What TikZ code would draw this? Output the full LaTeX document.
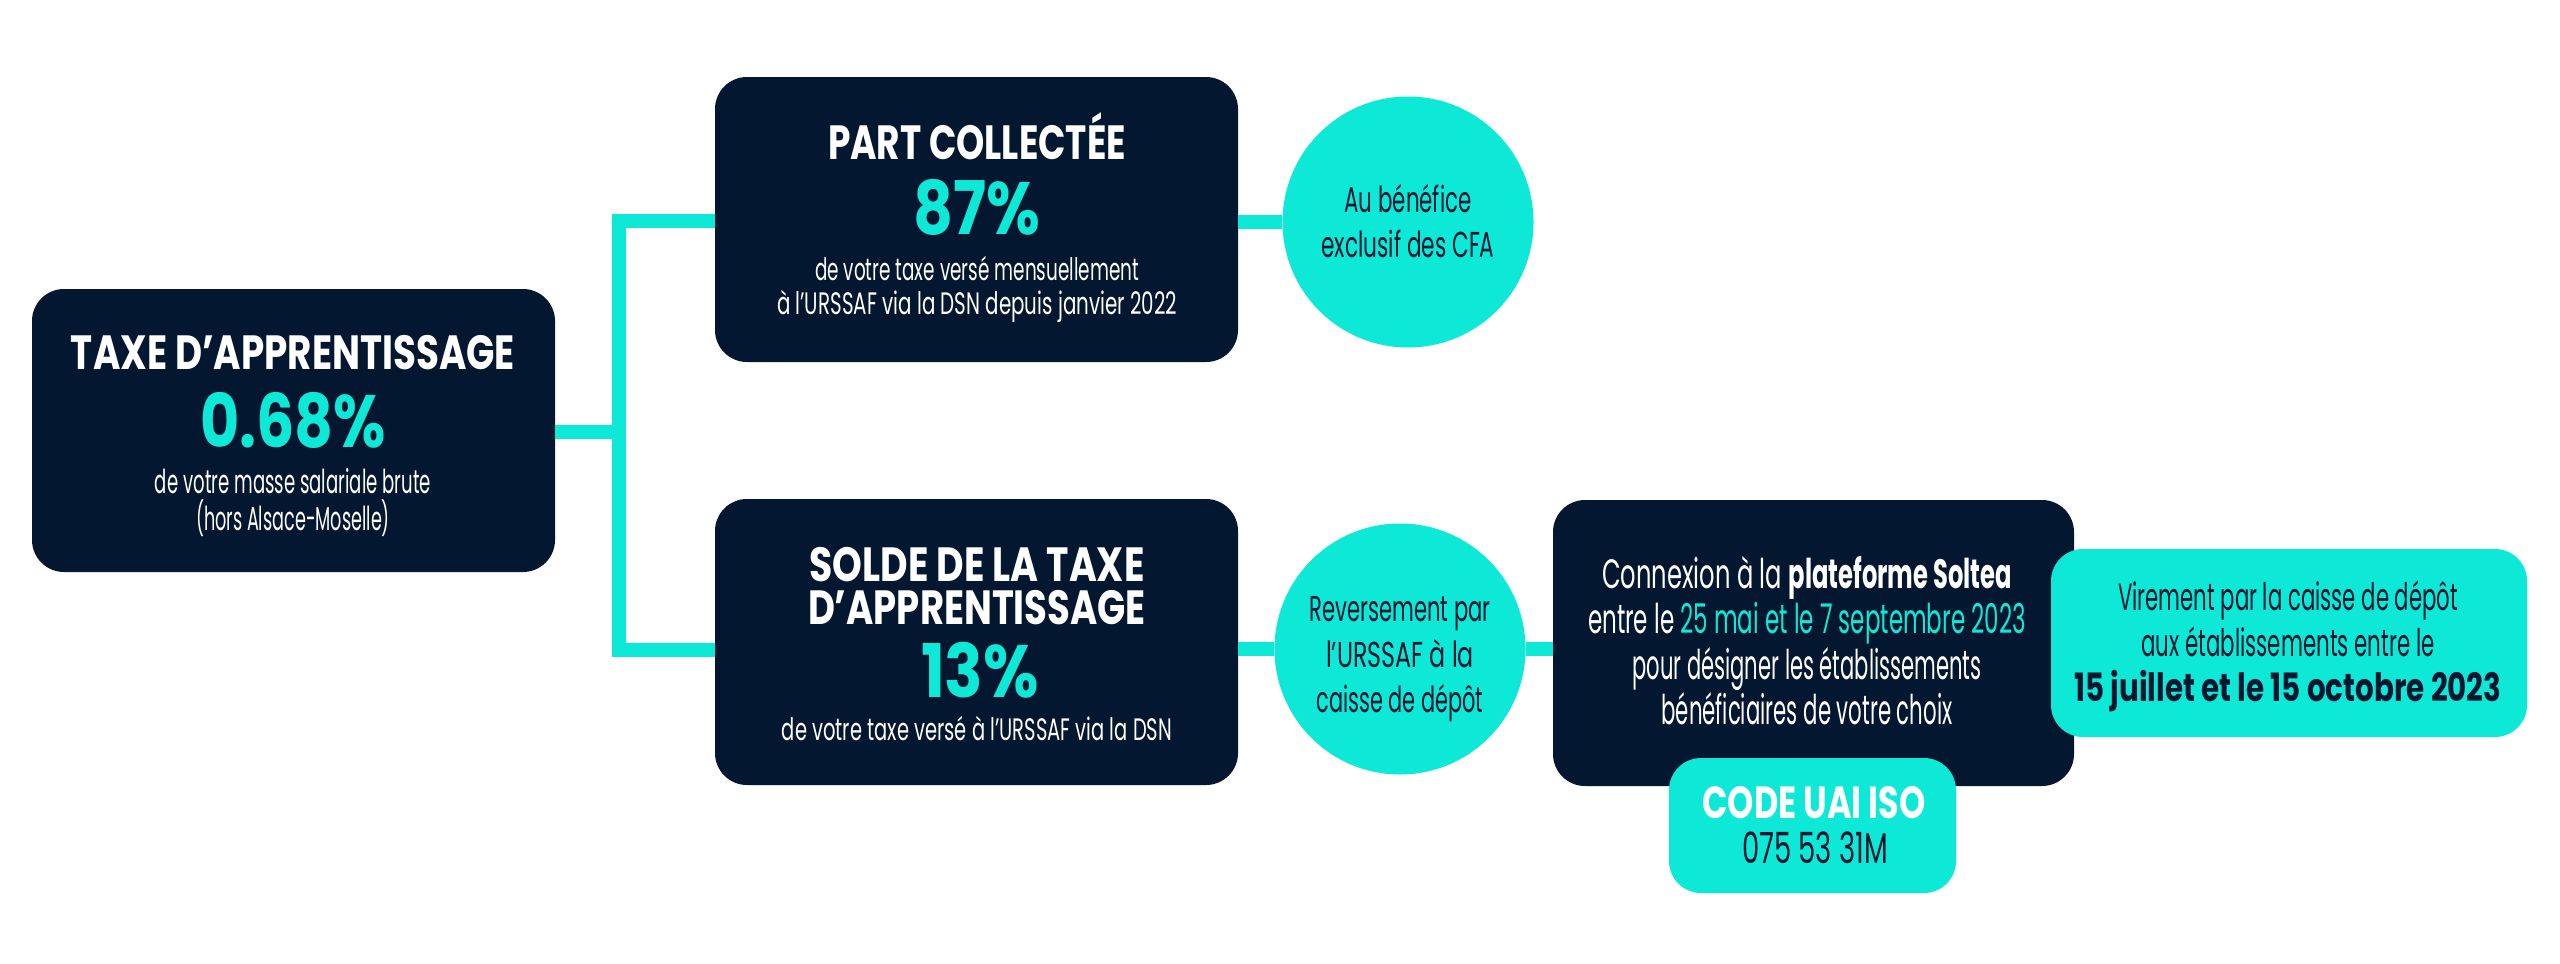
\documentclass[tikz,border=0pt]{standalone}
\usepackage{fontspec}
\setmainfont{Poppins}
\usepackage{graphicx}
\definecolor{navy}{HTML}{031830}
\definecolor{tq}{HTML}{0DE9D6}
\newcommand\fitw[2]{\resizebox{#1pt}{\height}{#2}}
\newcommand\fTitle{\fontsize{48}{48}\selectfont\bfseries}
\newcommand\fPct{\fontsize{74}{74}\selectfont\bfseries}
\newcommand\fBody{\fontsize{31}{31}\selectfont}
\newcommand\fBodyL{\fontsize{33}{33}\selectfont}
\newcommand\fCirc{\fontsize{36}{36}\selectfont}
\newcommand\fCon{\fontsize{41}{41}\selectfont}
\newcommand\fCode{\fontsize{45}{45}\selectfont\bfseries}
\newcommand\fNum{\fontsize{43}{43}\selectfont}
\newcommand\fVir{\fontsize{38}{38}\selectfont}
\newcommand\fVirB{\fontsize{39}{39}\selectfont\bfseries}
\begin{document}
\begin{tikzpicture}[x=1pt,y=-1pt,
  darkbox/.style={rectangle, rounded corners=32pt, fill=navy, inner sep=0pt},
  lightbox/.style={rectangle, rounded corners=32pt, fill=tq, inner sep=0pt},
  bubble/.style={circle, fill=tq, inner sep=0pt, minimum size=251pt},
  txt/.style={inner sep=0pt, anchor=base},
  conn/.style={draw=tq, line width=14pt, line join=miter}]
\fill[white] (0,0) rectangle (2560,964);
\useasboundingbox (0,0) rectangle (2560,964);

% boxes
\node[darkbox, minimum width=523pt, minimum height=283pt] (leftbox) at (293.5,430.5) {};
\node[darkbox, minimum width=523pt, minimum height=285pt] (topbox) at (976.5,219.5) {};
\node[darkbox, minimum width=523pt, minimum height=286pt] (botbox) at (976.5,642) {};
\node[bubble] (circ1) at (1408,222) {};
\node[bubble] (circ2) at (1400,649) {};
\node[darkbox, minimum width=521pt, minimum height=286pt] (conbox) at (1813.5,643) {};
\node[lightbox, minimum width=287pt, minimum height=135pt] (codebox) at (1812.5,825.5) {};
\node[lightbox, minimum width=476pt, minimum height=188pt] (virbox) at (2289,643) {};

% connectors
\coordinate (jt) at (619,221);
\coordinate (jm) at (619,432);
\coordinate (jb) at (619,650);
\draw[conn] (jt -| topbox.west) -- (jt) -- (jb) -- (jb -| botbox.west);
\draw[conn] (leftbox.east |- jm) -- (jm);
\draw[conn] (topbox.east |- circ1.west) -- (circ1.west);
\draw[conn] (botbox.east |- circ2.west) -- (circ2.west);
\draw[conn] (circ2.east) -- (circ2.east -| conbox.west);

% left box text
\node[txt, text=white] (l1) at (293,369) {\fitw{444}{\fTitle TAXE D’APPRENTISSAGE}};
\node[txt, text=tq] (l2) at (293,447) {\fitw{186}{\fPct 0.68\%}};
\node[txt, text=white] (l3) at (293,493) {\fitw{276}{\fBodyL de votre masse salariale brute}};
\node[txt, text=white] (l4) at (293,530) {\fitw{194}{\fBodyL (hors Alsace-Moselle)}};

% top box text
\node[txt, text=white] (t1) at (977,159) {\fitw{298}{\fTitle PART COLLECTÉE}};
\node[txt, text=tq] (t2) at (977,234) {\fitw{127}{\fPct 87\%}};
\node[txt, text=white] (t3) at (977,280) {\fitw{324}{\fBody de votre taxe versé mensuellement}};
\node[txt, text=white] (t4) at (977,314) {\fitw{400}{\fBody à l’URSSAF via la DSN depuis janvier 2022}};

% bottom box text
\node[txt, text=white] (b1) at (977,581) {\fitw{335}{\fTitle SOLDE DE LA TAXE}};
\node[txt, text=white] (b2) at (977,624) {\fitw{338}{\fTitle D’APPRENTISSAGE}};
\node[txt, text=tq] (b3) at (980,697) {\fitw{118}{\fPct 13\%}};
\node[txt, text=white] (b4) at (977,740) {\fitw{390}{\fBody de votre taxe versé à l’URSSAF via la DSN}};

% circle texts
\node[txt, text=navy] (c11) at (1408,212) {\fitw{127}{\fCirc Au bénéfice}};
\node[txt, text=navy] (c12) at (1408,257) {\fitw{173}{\fCirc exclusif des CFA}};
\node[txt, text=navy] (c21) at (1400,621) {\fitw{181}{\fCirc Reversement par}};
\node[txt, text=navy] (c22) at (1400,667) {\fitw{148}{\fCirc l’URSSAF à la}};
\node[txt, text=navy] (c23) at (1400,712) {\fitw{167}{\fCirc caisse de dépôt}};

% connexion box text
\node[txt, text=white] (k1) at (1807,588) {\fitw{410}{\fCon Connexion à la \textbf{plateforme Soltea}}};
\node[txt, text=white] (k2) at (1807,633) {\fitw{438}{\fCon entre le \textcolor{tq}{25 mai et le 7 septembre 2023}}};
\node[txt, text=white] (k3) at (1807,679) {\fitw{349}{\fCon pour désigner les établissements}};
\node[txt, text=white] (k4) at (1807,724) {\fitw{291}{\fCon bénéficiaires de votre choix}};

% code box text
\node[txt, text=white] (d1) at (1814,818) {\fitw{223}{\fCode CODE UAI ISO}};
\node[txt, text=navy] (d2) at (1815,863) {\fitw{146}{\fNum 075 53 31M}};

% virement box text
\node[txt, text=navy] (v1) at (2288,610) {\fitw{340}{\fVir Virement par la caisse de dépôt}};
\node[txt, text=navy] (v2) at (2288,656) {\fitw{293}{\fVir aux établissements entre le}};
\node[txt, text=navy] (v3) at (2288,701) {\fitw{427}{\fVirB 15 juillet et le 15 octobre 2023}};
\end{tikzpicture}
\end{document}
